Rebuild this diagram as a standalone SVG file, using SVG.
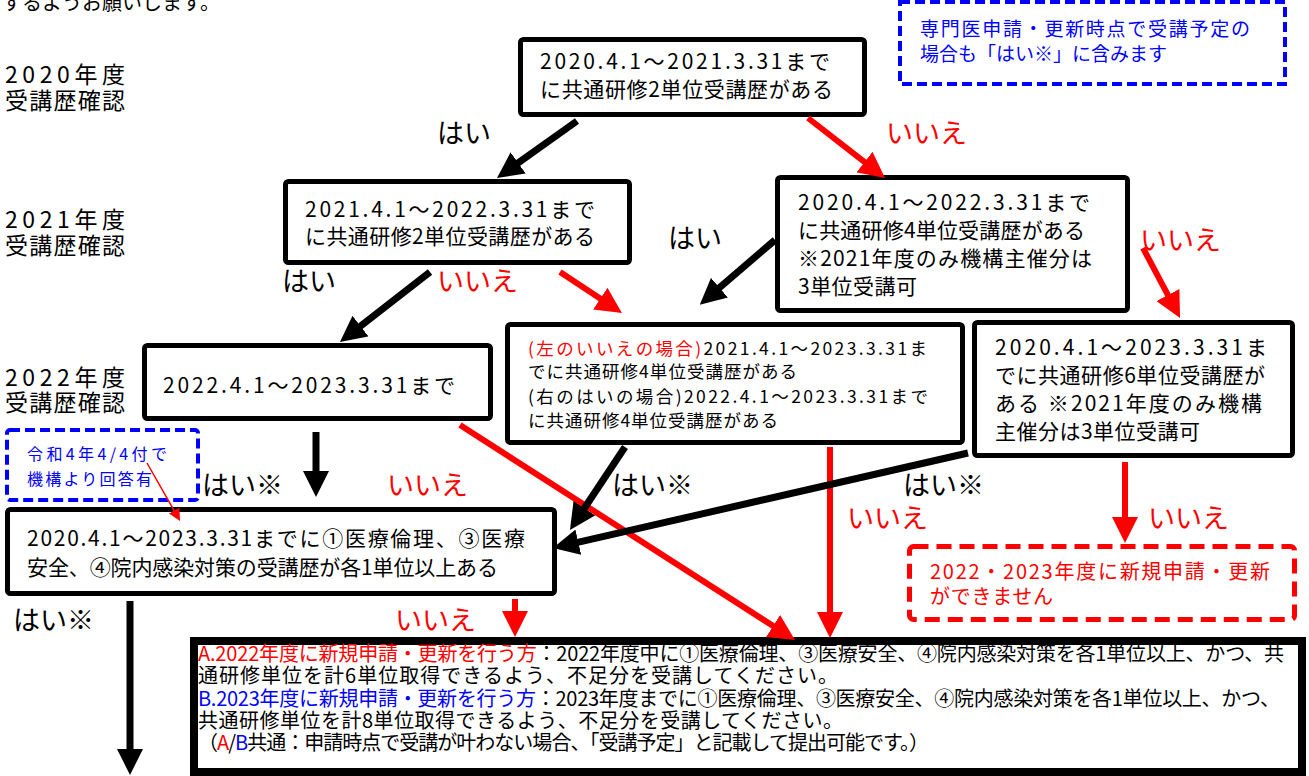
<svg xmlns="http://www.w3.org/2000/svg" width="1309" height="776" viewBox="0 0 1309 776">
<style>
text{font-family:'Noto Sans CJK JP','Noto Sans CJK SC',sans-serif;fill:#000}
.box{fill:#fff;stroke:#000;stroke-width:5}
.r{fill:#ff0000}
.b{fill:#0000ff}
.lbl{font-size:27px}
.yr{font-size:23px}
.t21{font-size:21px}
.ak{stroke:#000;stroke-width:7;fill:none;marker-end:url(#ahk)}
.ar{stroke:#ff0000;stroke-width:6;fill:none;marker-end:url(#ahr)}
</style>
<defs>
<marker id="ahk" markerUnits="userSpaceOnUse" markerWidth="26" markerHeight="26" viewBox="0 0 26 26" refX="3" refY="13" orient="auto"><path d="M0,0 L26,13 L0,26 z" fill="#000"/></marker>
<marker id="ahr" markerUnits="userSpaceOnUse" markerWidth="26" markerHeight="26" viewBox="0 0 26 26" refX="3" refY="13" orient="auto"><path d="M0,0 L26,13 L0,26 z" fill="#ff0000"/></marker>
<marker id="ahs" markerUnits="userSpaceOnUse" markerWidth="12" markerHeight="12" viewBox="0 0 12 12" refX="1" refY="6" orient="auto"><path d="M0,0 L12,6 L0,12 z" fill="#ff0000"/></marker>
</defs>
<rect width="1309" height="776" fill="#fff"/>

<text x="2" y="10" font-size="20">するようお願いします。</text>

<g id="year-labels">
<text x="5" y="83" class="yr" textLength="120">2020年度</text>
<text x="5" y="109" class="yr" textLength="120">受講歴確認</text>
<text x="5" y="228" class="yr" textLength="120">2021年度</text>
<text x="5" y="254" class="yr" textLength="120">受講歴確認</text>
<text x="5" y="386" class="yr" textLength="120">2022年度</text>
<text x="5" y="411" class="yr" textLength="120">受講歴確認</text>
</g>

<g id="n-note-top">
<rect x="900" y="2" width="385" height="82" fill="#fff" stroke="#0000ff" stroke-width="4" stroke-dasharray="10 5"/>
<text x="920" y="36" font-size="19" class="b" textLength="330">専門医申請・更新時点で受講予定の</text>
<text x="920" y="61" font-size="19" class="b" textLength="247">場合も「はい※」に含みます</text>
</g>

<g id="n-2020">
<rect class="box" x="520.5" y="39.5" width="344" height="75" rx="3"/>
<text class="t21" x="540" y="69" textLength="290">2020.4.1～2021.3.31まで</text>
<text class="t21" x="540" y="97" textLength="293">に共通研修2単位受講歴がある</text>
</g>

<g id="n-2021">
<rect class="box" x="285.5" y="181.5" width="344" height="81" rx="3"/>
<text class="t21" x="305" y="217" textLength="290">2021.4.1～2022.3.31まで</text>
<text class="t21" x="305" y="244" textLength="290">に共通研修2単位受講歴がある</text>
</g>

<g id="n-2020-2022">
<rect class="box" x="777.5" y="177.5" width="350" height="133" rx="3"/>
<text class="t21" x="798" y="210" textLength="292">2020.4.1～2022.3.31まで</text>
<text class="t21" x="798" y="238" textLength="287">に共通研修4単位受講歴がある</text>
<text class="t21" x="798" y="266" textLength="294">※2021年度のみ機構主催分は</text>
<text class="t21" x="798" y="294" textLength="119">3単位受講可</text>
</g>

<g id="n-4units">
<rect class="box" x="507.5" y="324.5" width="455" height="118" rx="3"/>
<text x="528" y="355" font-size="17.5" textLength="399"><tspan class="r">(左のいいえの場合)</tspan>2021.4.1～2023.3.31ま</text>
<text x="528" y="378" font-size="17.5" textLength="269">でに共通研修4単位受講歴がある</text>
<text x="528" y="403" font-size="17.5" textLength="400">(右のはいの場合)2022.4.1～2023.3.31まで</text>
<text x="528" y="427" font-size="17.5" textLength="250">に共通研修4単位受講歴がある</text>
</g>

<g id="n-6units">
<rect class="box" x="974.5" y="322.5" width="318" height="133" rx="3"/>
<text class="t21" x="995" y="355" textLength="272">2020.4.1～2023.3.31ま</text>
<text class="t21" x="995" y="383" textLength="270">でに共通研修6単位受講歴が</text>
<text class="t21" x="995" y="411" textLength="267">ある  ※2021年度のみ機構</text>
<text class="t21" x="995" y="439" textLength="205">主催分は3単位受講可</text>
</g>

<g id="n-2022">
<rect class="box" x="144.5" y="345.5" width="346" height="73" rx="3"/>
<text class="t21" x="163" y="393" textLength="292">2022.4.1～2023.3.31まで</text>
</g>

<g id="n-note-left">
<rect x="7" y="430" width="191" height="70" rx="3" fill="#fff" stroke="#0000ff" stroke-width="4" stroke-dasharray="10 5"/>
<text x="27" y="460" font-size="16" class="b" textLength="140">令和4年4/4付で</text>
<text x="27" y="485" font-size="16" class="b" textLength="125">機構より回答有</text>
</g>

<g id="n-ethics">
<rect class="box" x="7.5" y="509.5" width="547" height="84" rx="3"/>
<text class="t21" x="27" y="546" textLength="498">2020.4.1～2023.3.31までに①医療倫理、③医療</text>
<text class="t21" x="27" y="575" textLength="471">安全、④院内感染対策の受講歴が各1単位以上ある</text>
</g>

<g id="n-cannot">
<rect x="909.5" y="546.5" width="385" height="73" rx="4" fill="#fff" stroke="#ff0000" stroke-width="5" stroke-dasharray="15 8"/>
<text x="930" y="579" font-size="20" class="r" textLength="340">2022・2023年度に新規申請・更新</text>
<text x="930" y="604" font-size="20" class="r" textLength="123">ができません</text>
</g>

<g id="n-result">
<rect x="194" y="641" width="1108" height="131" fill="#fff" stroke="#000" stroke-width="8"/>
<text x="198" y="661" font-size="20" textLength="1086"><tspan class="r">A.2022年度に新規申請・更新を行う方</tspan>：2022年度中に①医療倫理、③医療安全、④院内感染対策を各1単位以上、かつ、共</text>
<text x="198" y="683" font-size="20" textLength="640">通研修単位を計6単位取得できるよう、不足分を受講してください。</text>
<text x="198" y="706" font-size="20" textLength="1082"><tspan class="b">B.2023年度に新規申請・更新を行う方</tspan>：2023年度までに①医療倫理、③医療安全、④院内感染対策を各1単位以上、かつ、</text>
<text x="198" y="728" font-size="20" textLength="645">共通研修単位を計8単位取得できるよう、不足分を受講してください。</text>
<text x="198" y="750" font-size="20" textLength="731">（<tspan class="r">A</tspan>/<tspan class="b">B</tspan>共通：申請時点で受講が叶わない場合、「受講予定」と記載して提出可能です。）</text>
</g>

<g id="connectors">
<line class="ak" x1="577" y1="121" x2="515.7" y2="164.7"/>
<line class="ar" x1="808" y1="118" x2="866.9" y2="163.9"/>
<line class="ak" x1="775" y1="240" x2="717.2" y2="289.7"/>
<line class="ar" x1="1143" y1="248" x2="1169.3" y2="297.7"/>
<line class="ak" x1="430" y1="272" x2="358.1" y2="327.9"/>
<line class="ar" x1="560" y1="272" x2="602.8" y2="300.3"/>
<line class="ak" x1="316" y1="432" x2="316" y2="474"/>
<line class="ar" x1="460" y1="425" x2="775.6" y2="627.6"/>
<line class="ak" x1="625" y1="447" x2="582.7" y2="510.8"/>
<line class="ar" x1="830" y1="447" x2="830" y2="615"/>
<line class="ak" x1="968" y1="453" x2="575.4" y2="542.9"/>
<line class="ar" x1="1125" y1="462" x2="1125" y2="520"/>
<line class="ar" x1="515" y1="599" x2="515" y2="614"/>
<line class="ak" x1="130" y1="601" x2="130" y2="752"/>
<line x1="147" y1="463" x2="174.6" y2="511.4" stroke="#ff0000" stroke-width="1.5" marker-end="url(#ahs)"/>
</g>

<g id="edge-labels">
<text class="lbl" x="437" y="143">はい</text>
<text class="lbl r" x="886" y="143">いいえ</text>
<text class="lbl" x="668" y="248">はい</text>
<text class="lbl r" x="1140" y="250">いいえ</text>
<text class="lbl" x="282" y="291">はい</text>
<text class="lbl r" x="437" y="291">いいえ</text>
<text class="lbl" x="202" y="495">はい※</text>
<text class="lbl r" x="387" y="495">いいえ</text>
<text class="lbl" x="612" y="495">はい※</text>
<text class="lbl r" x="847" y="528">いいえ</text>
<text class="lbl" x="903" y="495">はい※</text>
<text class="lbl r" x="1148" y="528">いいえ</text>
<text class="lbl r" x="395" y="630">いいえ</text>
<text class="lbl" x="13" y="630">はい※</text>
</g>
</svg>
